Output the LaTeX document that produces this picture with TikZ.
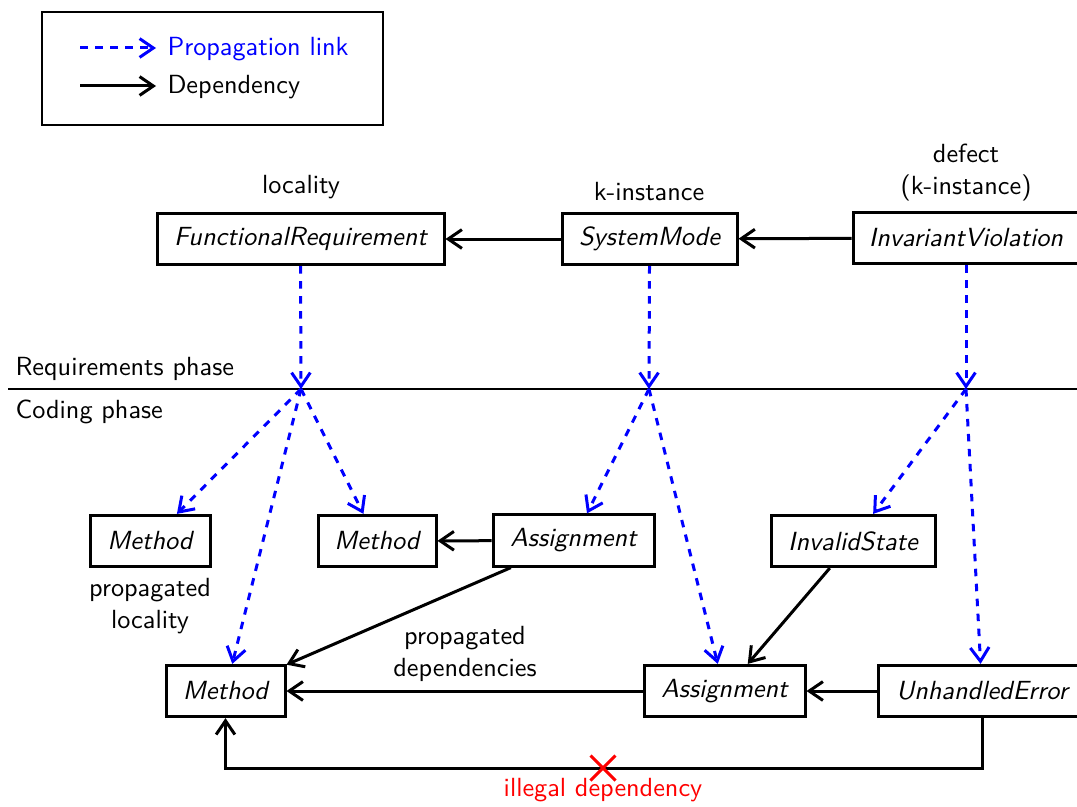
\documentclass[tikz,border=0pt]{standalone}
\usetikzlibrary{shapes.misc,arrows.meta}
\begin{document}
\begin{tikzpicture}[x=0.4pt,y=-0.4pt,
  every node/.style={font=\fontsize{10.5}{12.8}\selectfont\sffamily},
  box/.style={draw, line width=1.2pt, font=\fontsize{10.5}{12.8}\selectfont\sffamily\itshape, minimum height=20.5pt, inner sep=0pt},
  dep/.style={-{Straight Barb[length=5.5pt,width=7.5pt]}, line width=1.2pt},
  prop/.style={-{Straight Barb[length=5.5pt,width=7.5pt]}, blue, dashed, line width=1.2pt},
  lbl/.style={align=center, inner sep=0pt},
  txt/.style={anchor=west, inner sep=0pt}]
\useasboundingbox (0,0) rectangle (1077,806);

% legend
\node[draw, line width=0.5pt, minimum width=136.4pt, minimum height=45.2pt] (legend) at (212.5,68.5) {};
\coordinate (l1a) at (80,48);
\coordinate (l1b) at (156,48);
\coordinate (l2a) at (80,86);
\coordinate (l2b) at (156,86);
\draw[prop] (l1a) -- (l1b);
\draw[dep] (l2a) -- (l2b);
\node[txt, text=blue] (lt1) at (167,49.5) {Propagation link};
\node[txt] (lt2) at (167,87.5) {Dependency};

% phase line
\coordinate (pl) at (8,389);
\coordinate (pr) at (1090,389);
\draw[line width=0.5pt] (pl) -- (pr);
\node[txt] (req) at (15,369) {Requirements phase};
\node[txt] (cod) at (15,411.5) {Coding phase};

% top row
\node[box, minimum width=114.8pt] (fr) at (300.5,239) {FunctionalRequirement};
\node[box, minimum width=70pt] (sm) at (649.5,239) {SystemMode};
\node[box, minimum width=90.4pt] (iv) at (966,238) {InvariantViolation};
\node[lbl] (frl) at (301,187) {locality};
\node[lbl] (sml) at (649,192) {k-instance};
\node[lbl] (ivl) at (966,172.5) {defect\\(k-instance)};
\draw[dep] (sm) -- (fr);
\draw[dep] (iv) -- (sm);

% propagation points
\coordinate (p1) at (301,389);
\coordinate (p2) at (649,389);
\coordinate (p3) at (966,389);

% middle row
\node[box, minimum width=48pt] (m1) at (150,541) {Method};
\node[box, minimum width=47.2pt] (m2) at (377,541) {Method};
\node[box, minimum width=64.4pt] (a1) at (573.5,540.5) {Assignment};
\node[box, minimum width=65.6pt] (is) at (853,541) {InvalidState};
\node[lbl] (m1l) at (150,606) {propagated\\locality};

% bottom row
\node[box, minimum width=47.6pt] (m3) at (225.5,691) {Method};
\node[box, minimum width=64.4pt] (a2) at (724.5,691) {Assignment};
\node[box, minimum width=83.2pt] (ue) at (982,691) {UnhandledError};
\node[lbl] (pdl) at (465,654) {propagated\\dependencies};

% propagation links
\draw[prop] (fr.south) -- (p1);
\draw[prop] (sm.south) -- (p2);
\draw[prop] (iv.south -| p3) -- (p3);
\draw[prop] (p1) -- (m1);
\draw[prop] (p1) -- (m2);
\draw[prop] (p1) -- (m3);
\draw[prop] (p2) -- (a1);
\draw[prop] (p2) -- (a2);
\draw[prop] (p3) -- (is);
\draw[prop] (p3) -- (ue);

% dependencies
\draw[dep] (a1) -- (m2);
\draw[dep] (a1) -- (m3);
\draw[dep] (is) -- (a2);
\draw[dep] (a2) -- (m3);
\draw[dep] (ue) -- (a2);

% illegal dependency
\coordinate (ill) at (603,768);
\draw[dep] (ue.south) |- (ill) -| (m3.south);
\node[cross out, draw=red, line width=1.2pt, minimum size=8.8pt, inner sep=0pt] (cx) at (ill) {};
\node[text=red, inner sep=0pt] (illl) at (603,790.5) {illegal dependency};
\end{tikzpicture}
\end{document}
